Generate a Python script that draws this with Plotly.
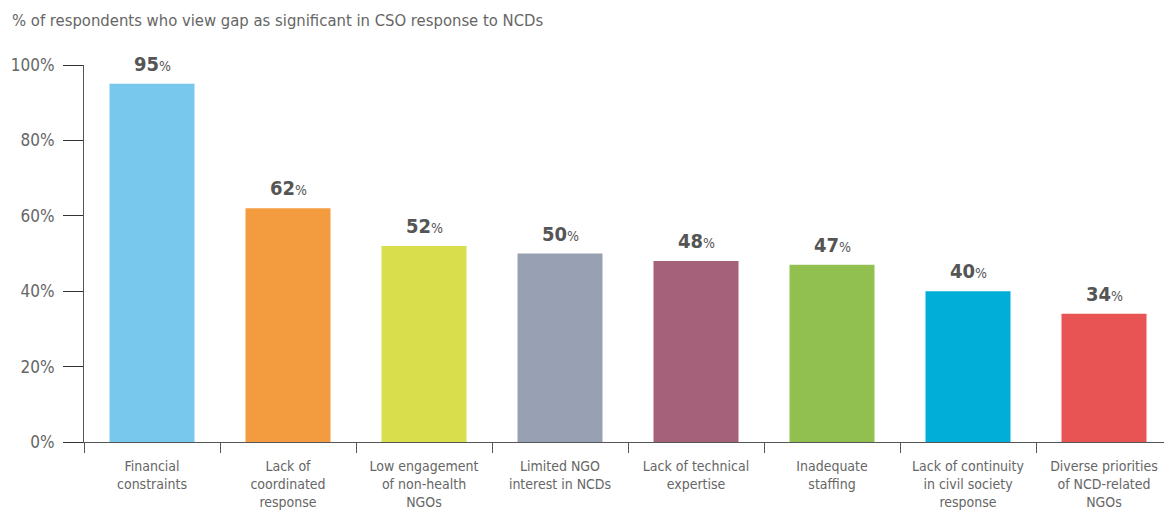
import plotly.graph_objects as go

categories = [
    "Financial<br>constraints",
    "Lack of<br>coordinated<br>response",
    "Low engagement<br>of non-health<br>NGOs",
    "Limited NGO<br>interest in NCDs",
    "Lack of technical<br>expertise",
    "Inadequate<br>staffing",
    "Lack of continuity<br>in civil society<br>response",
    "Diverse priorities<br>of NCD-related<br>NGOs",
]
values = [95, 62, 52, 50, 48, 47, 40, 34]
colors = ["#78C8EE", "#F39B3F", "#D8DE4C", "#97A1B3", "#A5607A", "#92C050", "#00AED8", "#E85354"]
y_ticks = [0, 20, 40, 60, 80, 100]
y_tick_labels = ["0%", "20%", "40%", "60%", "80%", "100%"]
title = "% of respondents who view gap as significant in CSO response to NCDs"

FONT = "Liberation Sans Narrow, DejaVu Sans Condensed, Arial Narrow, sans-serif"

fig = go.Figure()
fig.add_trace(go.Bar(
    x=categories, y=values, marker=dict(color=colors, line=dict(width=0)),
    width=0.625, hoverinfo="skip",
))

for c, v in zip(categories, values):
    fig.add_annotation(
        x=c, y=v, yanchor="bottom", yshift=6, showarrow=False,
        text=f"<b>{v}</b><span style='font-size:14px'>%</span>",
        font=dict(family=FONT, size=20, color="#555555"),
    )

fig.update_layout(
    width=1164, height=508,
    margin=dict(l=76, r=0, t=57, b=74, autoexpand=False),
    plot_bgcolor="white", paper_bgcolor="white",
    showlegend=False,
    font=dict(family=FONT, color="#666666"),
    annotations=list(fig.layout.annotations) + [dict(
        text=title, xref="paper", yref="paper", x=-76 / 1088 + 2 / 1088, y=1.0, yshift=56,
        xanchor="left", yanchor="top", showarrow=False,
        font=dict(family=FONT, size=16.5, color="#666666"),
    )],
)
fig.update_xaxes(
    range=[-0.5, 7.5], showline=True, linecolor="#555555", linewidth=1.2,
    ticks="outside", tickson="boundaries", ticklen=10, tickcolor="#555555",
    tickfont=dict(family=FONT, size=14, color="#666666"), showgrid=False,
    automargin=False, ticklabelstandoff=11,
)
fig.update_yaxes(
    range=[0, 100], tickvals=y_ticks, ticktext=y_tick_labels,
    showline=True, linecolor="#555555", linewidth=1.2,
    ticks="outside", ticklen=20, tickcolor="#333333",
    tickfont=dict(family=FONT, size=17, color="#666666"),
    showgrid=False, zeroline=False, automargin=False, ticklabelstandoff=5,
)

fig.write_html("out.html")
